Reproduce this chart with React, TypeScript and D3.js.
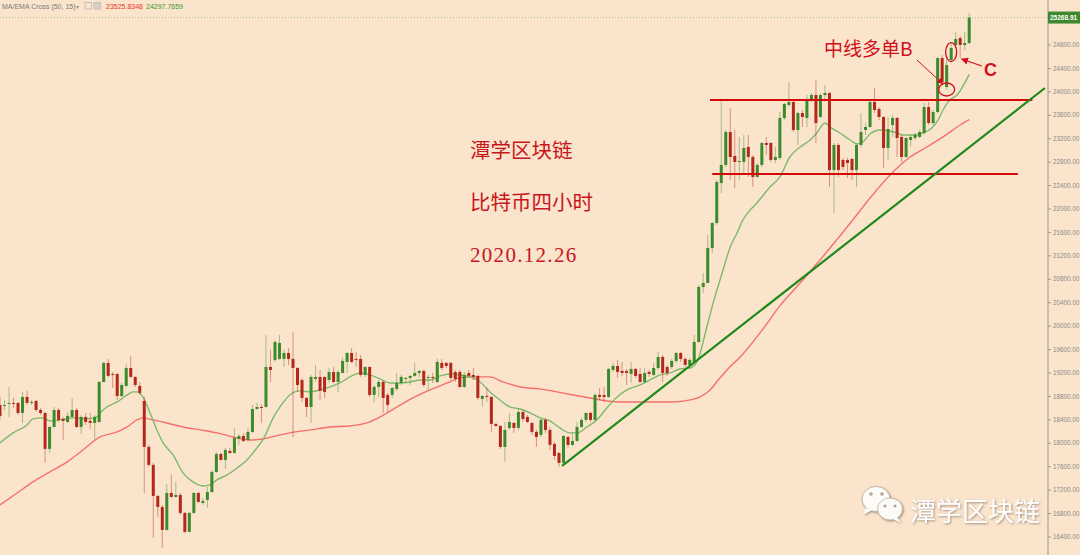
import React from 'react';
import * as d3 from 'd3';

const W = 1080;
const H = 555;

// [open, high, low, close] — BTC 4H candles
const ohlc: [number, number, number, number][] = [
  [18655,18791,18399,18467],[18638,18740,18569,18655],[18672,18962,18450,18689],[18689,18774,18603,18680],
  [18689,18706,18484,18518],[18518,18877,18347,18791],[18791,18894,18655,18689],[18689,18740,18655,18706],
  [18723,18740,18535,18569],[18569,18603,18484,18518],[18518,18535,17665,17904],[17904,18290,17835,18279],
  [18279,18620,18270,18569],[18569,18603,18364,18399],[18416,18450,18057,18382],[18364,18535,18347,18467],
  [18450,18774,18433,18569],[18569,18603,18262,18279],[18279,18484,18160,18450],[18450,18518,18313,18364],
  [18382,18518,18245,18347],[18347,18484,18057,18450],[18364,19064,18355,19047],[19047,19389,19040,19372],
  [19372,19440,19133,19150],[19184,19218,18945,19167],[19184,19201,18740,18808],[18808,19030,18791,18996],
  [18979,19355,18962,19286],[19286,19491,19116,19133],[19133,19140,18962,18996],[18979,19047,18825,18860],
  [18723,18791,17152,17938],[17938,17972,17597,17631],[17631,17665,16384,17101],[17101,17118,16743,16913],
  [16913,16948,16214,16521],[16521,17306,16510,17152],[17152,17460,17067,17084],[17084,17340,17067,17118],
  [17118,17152,16777,16811],[16811,16828,16470,16487],[16487,16828,16480,16811],[16811,17169,16794,17152],
  [17152,17169,16982,16999],[16982,17067,16948,17016],[17033,17255,16896,17169],[17169,17545,17152,17511],
  [17511,17852,17494,17818],[17818,17835,17705,17716],[17716,17920,17562,17886],[17869,17920,17818,17835],
  [17835,18262,17825,18091],[18074,18160,17972,18125],[18125,18177,18023,18040],[18057,18262,18023,18194],
  [18194,18655,18177,18586],[18586,18689,18569,18620],[18620,18672,18347,18603],[18620,19850,18610,19303],
  [19303,19594,19047,19252],[19423,19764,19389,19730],[19440,19850,19423,19713],[19440,19594,19303,19542],
  [19542,19628,19338,19440],[19440,19901,18108,19286],[19286,19303,18877,18996],[19081,19116,18706,18774],
  [18774,18791,18450,18620],[18620,19167,18347,19133],[19099,19338,19047,19133],[19133,19252,18740,18894],
  [19133,19140,18774,18877],[19081,19286,19030,19218],[19218,19303,19030,19047],[19047,19252,18877,19218],
  [19201,19474,19195,19406],[19389,19559,19201,19542],[19542,19628,19372,19389],[19440,19559,19303,19423],
  [19440,19508,19133,19167],[19167,19310,19133,19303],[19303,19310,18791,18825],[18825,18996,18706,18962],
  [18962,19081,18791,19047],[19047,19081,18518,18774],[18825,18860,18535,18655],[18825,18962,18774,18945],
  [18928,19201,18894,19030],[19030,19167,18996,19133],[19099,19133,19030,19116],[19116,19167,18996,19150],
  [19150,19372,19133,19201],[19201,19252,19133,19235],[19235,19252,18962,18996],[19116,19167,18911,19133],
  [19133,19201,19030,19116],[19047,19440,19030,19389],[19372,19440,19252,19286],[19372,19389,19286,19320],
  [19372,19389,19081,19116],[19218,19252,19047,19099],[19218,19252,18945,18962],[18962,19218,18945,19167],
  [19201,19252,19133,19150],[19167,19286,19081,19133],[19150,19167,18740,18774],[18757,18825,18620,18808],
  [18808,18945,18706,18791],[18791,18800,18194,18330],[18330,18347,18279,18296],[18296,18313,17904,17938],
  [17938,18364,17682,18228],[18262,18518,18228,18364],[18347,18364,18177,18262],[18262,18603,18228,18535],
  [18535,18569,18364,18416],[18450,18484,18347,18364],[18347,18364,18143,18194],[18194,18228,17938,18108],
  [18143,18416,18108,18399],[18399,18433,18177,18228],[18228,18279,17886,17972],[17989,18023,17716,17784],
  [17835,17852,17597,17665],[17665,18143,17648,18125],[18108,18125,17921,17972],[17972,18177,17955,18040],
  [18040,18364,18023,18279],[18279,18433,18270,18399],[18399,18525,18364,18518],[18518,18535,18364,18399],
  [18399,18860,18382,18825],[18825,18945,18740,18791],[18825,18962,18706,18791],[18791,19286,18774,19269],
  [19252,19372,19218,19320],[19320,19423,19116,19218],[19235,19389,19150,19201],[19235,19269,18996,19201],
  [19184,19389,19030,19269],[19269,19286,19116,19150],[19184,19286,19030,19047],[19047,19286,19030,19201],
  [19218,19252,19133,19184],[19167,19372,19150,19286],[19286,19559,19252,19474],[19474,19508,19047,19201],
  [19303,19338,19150,19201],[19303,19440,19269,19406],[19406,19559,19372,19542],[19542,19559,19389,19440],
  [19440,19474,19303,19338],[19338,19457,19303,19423],[19389,19850,19372,19730],[19730,20703,19713,20669],
  [20669,20908,20567,20737],[20737,21556,20737,21335],[21335,21778,21249,21761],[21761,22495,21727,22461],
  [22444,23861,22274,22752],[22752,23349,22717,23315],[23315,23725,22495,22888],[22905,23349,22359,22803],
  [22803,23230,22495,22820],[22803,23264,22615,23042],[23059,23264,22547,22888],[22888,22922,22376,22547],
  [22547,22786,22540,22752],[22752,23144,22717,23127],[23127,23230,22922,23093],[23127,23144,22803,22837],
  [22837,23059,22786,22888],[22871,23656,22837,23554],[23554,23810,23520,23793],[23776,24168,23742,23827],
  [23827,23861,23315,23349],[23349,23656,23093,23639],[23639,23690,23400,23571],[23554,23946,23400,23861],
  [23861,23981,23827,23946],[23946,24202,23127,23468],[23571,23981,23554,23946],[23946,24117,23827,23981],
  [23981,23998,22376,22666],[22666,23127,21932,23093],[23093,23127,22547,22666],[22837,22871,22666,22717],
  [22837,22871,22530,22786],[22854,22871,22495,22666],[22666,23127,22376,23093],[23093,23639,23059,23315],
  [23349,23468,23264,23400],[23400,23861,23383,23827],[23827,24066,23639,23690],[23707,23742,23520,23571],
  [23571,23580,22700,23042],[23042,23571,22837,23366],[23434,23605,23230,23554],[23554,23571,22888,23212],
  [23230,23264,22803,22888],[22888,23230,22871,23212],[23178,23264,23059,23230],[23212,23298,23178,23264],
  [23230,23349,23212,23315],[23298,23810,23264,23741],[23741,23827,23434,23468],[23468,23690,23434,23656],
  [23656,24595,23639,24578],[24578,24629,24117,24168],[24083,24578,24032,24458],[24544,24834,24510,24749],
  [24800,25022,24749,24902],[24919,24953,24578,24800],[24800,25022,24715,24834],[24834,25346,24817,25268.91],
];

// EMA(15) line samples: [candle index, value]
const emaPoints: [number, number][] = [
  [0,18006],[2.9,18177],[6,18313],[7.3,18416],[9.5,18433],[11.1,18382],[13.3,18399],[16.2,18433],
  [19.3,18416],[21.5,18450],[22.2,18518],[23.7,18620],[26,18706],[28.2,18825],[29.5,18877],[30.6,18877],
  [31.7,18791],[33.3,18518],[34.8,18228],[36.2,18006],[38.4,17801],[40.6,17494],[42.8,17340],[45,17272],
  [46.6,17289],[48.1,17374],[50.4,17460],[52.6,17579],[54.8,17716],[57,17921],[58.3,18057],[60.6,18433],
  [62.1,18620],[64.3,18825],[66.5,18894],[68.8,18877],[71,18911],[73.2,18962],[75.4,19030],[77.6,19133],
  [79.9,19201],[82.1,19167],[84.3,19099],[86.5,19030],[88.7,19030],[91,19047],[93.2,19081],[95.4,19081],
  [97.6,19150],[99.8,19184],[102,19167],[104.3,19133],[106.5,19047],[108.7,18877],[110.9,18740],[113.1,18620],
  [115.4,18586],[117.6,18518],[119.8,18433],[122,18382],[124.2,18262],[126.4,18177],[128,18177],[130.2,18279],
  [132.4,18399],[134.6,18603],[136.9,18791],[139.1,18911],[142,18996],[144.2,19081],[146.4,19167],[148.6,19201],
  [150.8,19269],[153.1,19286],[154.8,19423],[156.8,19986],[158.2,20396],[160.4,20959],[161.9,21335],[163.5,21591],
  [164.8,21813],[166.4,21983],[167.9,22103],[170.8,22376],[173,22547],[175.2,22888],[177.5,23059],[179.7,23178],
  [181.2,23298],[183,23468],[184.1,23400],[186.3,23298],[188.6,23178],[190.1,23110],[191.4,23144],[193,23281],
  [195.2,23349],[197.4,23332],[199,23298],[200.3,23264],[202.5,23264],[204.7,23298],[206.7,23383],[208.1,23520],
  [209.2,23690],[210.7,23861],[212.3,23946],[215,24297.77],
];

// MA(50) line samples: [candle index, value]
const maPoints: [number, number][] = [
  [0,16948],[3.8,17152],[7.3,17340],[11.1,17511],[14.9,17682],[18.4,17886],[22.2,18108],[26,18194],
  [28.2,18279],[30.4,18399],[31.7,18433],[33.9,18399],[37,18347],[40.6,18279],[44.4,18228],[48.1,18177],
  [51.7,18108],[55.5,18057],[58.3,18074],[62.1,18143],[64.3,18177],[68.8,18228],[73.2,18279],[77.6,18296],
  [81.4,18347],[84.3,18450],[88.1,18620],[91.6,18774],[95.4,18911],[99.2,19030],[102,19116],[105.4,19133],
  [108.7,19133],[111.6,19047],[115.4,18962],[119.8,18928],[123.6,18877],[127.1,18825],[130.9,18774],[134.6,18723],
  [138.2,18706],[142,18706],[145.7,18706],[149.3,18706],[153.1,18740],[155.3,18791],[157.5,18911],[159.7,19116],
  [161.9,19303],[164.2,19474],[168.6,19884],[173,20345],[177.5,20737],[181.9,21130],[186.3,21540],[189.7,21864],
  [193,22188],[198.1,22632],[201.9,22888],[205.6,23059],[209.2,23230],[213,23434],[215,23525.83],
];

const yTicks = [24800,24400,24000,23600,23200,22800,22400,22000,21600,21200,20800,20400,20000,19600,19200,18800,18400,18000,17600,17200,16800,16400];
const lastPrice = 25268.91;
const legendTitle = 'MA/EMA Cross (50, 15)';
const legendMA = '23525.8348';
const legendEMA = '24297.7659';

// annotations (in index / price units)
const levels = [
  { price: 23861, from: 157.5, to: 229 },
  { price: 22598, from: 158, to: 225.8 },
];
const trendLine: [number, number][] = [[124.7, 17613], [231.8, 24066]];
const circles = [
  { i: 210, p: 24040, rx: 8, ry: 6.5 },
  { i: 211, p: 24680, rx: 5.5, ry: 9.5 },
];
const arrowB: [number, number][] = [[203.4, 24544], [209.1, 24140]];
const arrowC: [number, number][] = [[217.8, 24441], [213.3, 24561]];

const GREEN = '#3b8a2c';
const RED = '#b3281b';
const ANN = '#d0101a';

export default function App() {
  const x = d3.scaleLinear().domain([0, 215]).range([0, 969.2]);
  const y = d3.scaleLinear().domain([16400, 24800]).range([537, 45]);
  const line = d3.line<[number, number]>().x(d => x(d[0])).y(d => y(d[1])).curve(d3.curveMonotoneX);
  const fmt = d3.format('.2f');
  const axisX = 1048;
  const bw = 3;

  return (
    <svg width={W} height={H} style={{ position: 'absolute', left: 0, top: 0, background: '#fbe4cc' }}
      fontFamily="'Liberation Sans', Arial, sans-serif">
      <defs>
        <marker id="ah" viewBox="0 0 10 10" refX="9" refY="5" markerWidth="6" markerHeight="6" orient="auto">
          <path d="M0,0 L10,5 L0,10 z" fill={ANN} />
        </marker>
        <filter id="sh" x="-20%" y="-20%" width="140%" height="140%">
          <feDropShadow dx="1" dy="1" stdDeviation="0.8" floodColor="#8a7a6a" floodOpacity="0.8" />
        </filter>
      </defs>
      <rect x={0} y={0} width={W} height={H} fill="#fbe4cc" />

      {/* current price dotted line */}
      <line x1={0} x2={axisX} y1={y(lastPrice)} y2={y(lastPrice)} stroke="#a9c49a" strokeWidth={1} strokeDasharray="1,2" />

      {/* MA lines */}
      <path d={line(maPoints) || ''} fill="none" stroke="#f4716a" strokeWidth={1.4} />
      <path d={line(emaPoints) || ''} fill="none" stroke="#7dba6c" strokeWidth={1.4} />

      {/* candles */}
      {ohlc.map((c, i) => {
        const [o, h, l, cl] = c;
        const up = cl >= o;
        const col = up ? GREEN : RED;
        const cx = x(i);
        const top = y(Math.max(o, cl));
        const bot = y(Math.min(o, cl));
        return (
          <g key={i}>
            <line x1={cx} x2={cx} y1={y(h)} y2={y(l)} stroke={col} strokeOpacity={0.45} strokeWidth={1} />
            <rect x={cx - bw / 2} y={top} width={bw} height={Math.max(1, bot - top)} fill={col} />
          </g>
        );
      })}

      {/* horizontal box levels */}
      {levels.map((lv, k) => (
        <line key={k} x1={x(lv.from)} x2={x(lv.to)} y1={y(lv.price)} y2={y(lv.price)} stroke="#d40a0a" strokeWidth={2} />
      ))}
      {/* trend line */}
      <line x1={x(trendLine[0][0])} y1={y(trendLine[0][1])} x2={x(trendLine[1][0])} y2={y(trendLine[1][1])}
        stroke="#1f8a1a" strokeWidth={2.2} />

      {/* circles */}
      {circles.map((c, k) => (
        <ellipse key={k} cx={x(c.i)} cy={y(c.p)} rx={c.rx} ry={c.ry} fill="none" stroke={ANN} strokeWidth={1.3} />
      ))}
      <line x1={x(arrowB[0][0])} y1={y(arrowB[0][1])} x2={x(arrowB[1][0])} y2={y(arrowB[1][1])}
        stroke={ANN} strokeWidth={1} markerEnd="url(#ah)" />
      <line x1={x(arrowC[0][0])} y1={y(arrowC[0][1])} x2={x(arrowC[1][0])} y2={y(arrowC[1][1])}
        stroke={ANN} strokeWidth={1.2} markerEnd="url(#ah)" />

      <text x={824} y={56} fontSize={19} fill={ANN} fontFamily="'Noto Sans CJK SC', sans-serif">中线多单B</text>
      <text x={984} y={76} fontSize={18} fontWeight="bold" fill={ANN} fontFamily="'Liberation Sans', Arial, sans-serif">C</text>

      {/* title texts */}
      <text x={470} y={158} fontSize={20.5} fill="#c8161d" fontFamily="'Noto Sans CJK SC', sans-serif">潭学区块链</text>
      <text x={470} y={210} fontSize={20.5} fill="#c8161d" fontFamily="'Noto Sans CJK SC', sans-serif">比特币四小时</text>
      <text x={470} y={262} fontSize={21} letterSpacing={1.3} fill="#c8161d" fontFamily="'Liberation Serif', serif">2020.12.26</text>

      {/* legend */}
      <text x={2} y={9} fontSize={7} fill="#7a7a7a">{legendTitle}</text>
      <text x={76} y={9} fontSize={6} fill="#9a9a9a">▾</text>
      <rect x={85} y={2.5} width={6.5} height={6.5} fill="none" stroke="#c8c0b8" strokeWidth={1} />
      <rect x={94} y={2.5} width={6.5} height={6.5} fill="#d8d0c8" stroke="#c8c0b8" strokeWidth={1} />
      <text x={106} y={9} fontSize={7} fill="#e8332a">{legendMA}</text>
      <text x={146} y={9} fontSize={7} fill="#3a9a2a">{legendEMA}</text>

      {/* right axis */}
      <line x1={axisX} x2={axisX} y1={0} y2={H} stroke="#9a9a9a" strokeWidth={1} />
      {yTicks.map(t => (
        <g key={t}>
          <line x1={axisX} x2={axisX + 3} y1={y(t)} y2={y(t)} stroke="#9a9a9a" />
          <text x={axisX + 5} y={y(t) + 2.2} fontSize={6.3} fill="#8a8a8a">{fmt(t)}</text>
        </g>
      ))}
      <rect x={axisX} y={y(lastPrice) - 6} width={W - axisX} height={12} fill="#3d8a2e" />
      <text x={axisX + 2} y={y(lastPrice) + 2.3} fontSize={6.5} fontWeight="bold" fill="#ffffff">{fmt(lastPrice)}</text>

      {/* watermark */}
      <g filter="url(#sh)">
        <ellipse cx={876} cy={499} rx={14} ry={12.5} fill="#fdfbf8" stroke="#b8aca0" strokeWidth={0.8} />
        <path d="M866,508 L863,515 L872,510 z" fill="#fdfbf8" />
        <circle cx={871} cy={494} r={1.8} fill="#b0a49a" />
        <circle cx={882} cy={494} r={1.8} fill="#b0a49a" />
        <ellipse cx={890} cy={509} rx={12.5} ry={11} fill="#fdfbf8" stroke="#b8aca0" strokeWidth={0.8} />
        <path d="M897,517 L901,523 L893,519 z" fill="#fdfbf8" />
        <circle cx={885} cy={506} r={1.6} fill="#b0a49a" />
        <circle cx={895} cy={506} r={1.6} fill="#b0a49a" />
        <text x={910} y={521} fontSize={26} fill="#ffffff" fontFamily="'Noto Sans CJK SC', sans-serif">潭学区块链</text>
      </g>
    </svg>
  );
}
